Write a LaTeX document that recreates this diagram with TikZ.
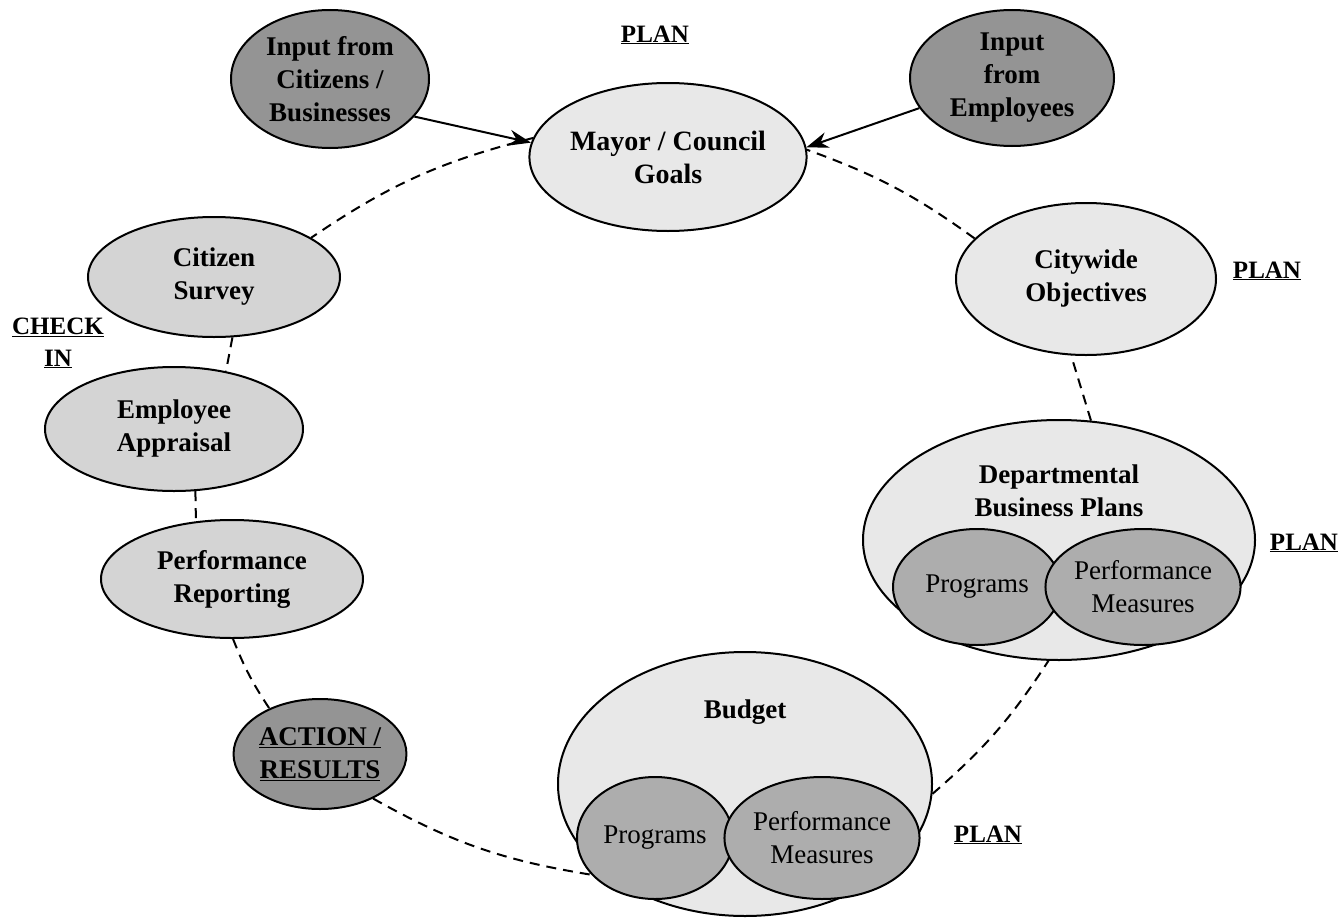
\documentclass[tikz,border=0pt]{standalone}
\usepackage{fontspec}
\setmainfont{Liberation Serif}
\usetikzlibrary{shapes.geometric,arrows.meta}

\tikzset{
  blob/.style={ellipse, draw, line width=2pt, inner sep=0pt, align=center,
    font=\fontsize{27}{33}\selectfont\bfseries},
  dark/.style={blob, fill=black!42},
  pale/.style={blob, fill=black!9},
  mid/.style={blob, fill=black!17},
  inner/.style={blob, fill=black!32, font=\fontsize{27}{33}\selectfont},
  tag/.style={font=\fontsize{25}{32}\selectfont\bfseries, align=center},
  cyc/.style={line width=2pt, dash pattern=on 10pt off 7pt},
  feed/.style={->, line width=2pt},
}

\begin{document}
\begin{tikzpicture}[x=1pt,y=1pt,>={Stealth[length=22pt,width=16pt]}]
	\useasboundingbox (0,0) rectangle (1344,-918);

	% inputs and goals
	\node[dark, minimum width=198pt, minimum height=138pt] (incit) at (330,-79) {Input from\\Citizens /\\Businesses};
	\node[dark, minimum width=204pt, minimum height=136pt] (inemp) at (1012,-78) {Input\\from\\Employees};
	\node[pale, minimum width=264pt, minimum height=148pt, font=\fontsize{28}{33}\selectfont\bfseries] (mayor) at (668,-157) {Mayor / Council\\Goals};
	\node[tag] (plantop) at (655,-35) {\underline{PLAN}};

	% plan side
	\node[pale, minimum width=260pt, minimum height=152pt] (city) at (1086,-279) {Citywide\\Objectives};
	\node[tag] (plancity) at (1267,-271) {\underline{PLAN}};
	\node[pale, minimum width=392pt, minimum height=240pt, text depth=98pt] (dept) at (1059,-540) {Departmental\\Business Plans};
	\node[inner, minimum width=168pt, minimum height=116pt] (dprog) at (977,-587) {Programs};
	\node[inner, minimum width=166pt, minimum height=116pt] (dperf) at (1143,-587) {Performance\\Measures};
	\node[tag] (plandept) at (1304,-543) {\underline{PLAN}};
	\node[pale, minimum width=374pt, minimum height=264pt, text depth=150pt] (budget) at (745,-784) {Budget};
	\node[inner, minimum width=156pt, minimum height=122pt] (bprog) at (655,-838) {Programs};
	\node[inner, minimum width=176pt, minimum height=122pt] (bperf) at (822,-838) {Performance\\Measures};
	\node[tag] (planbud) at (988,-835) {\underline{PLAN}};

	% check side
	\node[dark, minimum width=170pt, minimum height=110pt] (action) at (320,-754) {\underline{ACTION /}\\\underline{RESULTS}};
	\node[mid, minimum width=262pt, minimum height=118pt] (report) at (232,-579) {Performance\\Reporting};
	\node[mid, minimum width=258pt, minimum height=124pt] (apprai) at (174,-429) {Employee\\Appraisal};
	\node[mid, minimum width=252pt, minimum height=120pt] (survey) at (214,-277) {Citizen\\Survey};
	\node[tag] (check) at (58,-343) {\underline{CHECK}\\\underline{IN}};

	\path[cyc] (mayor.172) edge[bend right=10] (survey.22)
	(survey.-73) edge (apprai.48)
	(apprai.-71) edge (report.122)
	(report.-89) edge[bend right=6] (action.138)
	(action.-40) edge[bend right=10] (bprog.-150)
	(budget.-3) edge[bend right=8] (dept.-95)
	(dept.75) edge (city.-101)
	(city.160) edge[bend right=8] (mayor.3)
	;
	\path[feed] (incit.-24) edge (mayor.174)
	(inemp.198) edge (mayor.4)
	;
\end{tikzpicture}
\end{document}
